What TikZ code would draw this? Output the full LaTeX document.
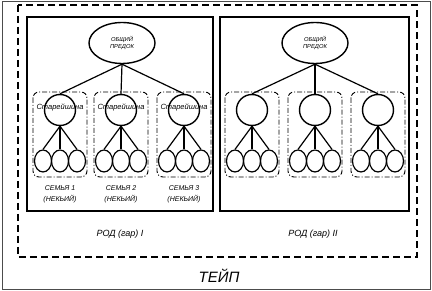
\documentclass[tikz,border=0pt]{standalone}
\usepackage{fontspec}
\setmainfont{Liberation Sans}
\usetikzlibrary{shapes.geometric}
\begin{document}
\begin{tikzpicture}[x=1pt,y=-1pt,
  line/.style={line width=1.2pt,black},
  bigell/.style={ellipse,draw,line width=1.4pt,minimum width=66pt,minimum height=41pt,inner sep=0pt,align=center,font=\fontsize{5.8}{7.8}\selectfont\itshape},
  circ/.style={circle,draw,line width=1.4pt,minimum size=31pt,inner sep=0pt},
  smell/.style={ellipse,draw,line width=1.2pt,minimum width=17pt,minimum height=22pt,inner sep=0pt},
  famgroup/.style={draw,line width=0.9pt,rounded corners=6pt,dash pattern=on 5pt off 2pt on 1pt off 2pt},
  rodbox/.style={draw,line width=1.3pt},
  tlabel/.style={font=\fontsize{7.5}{9}\selectfont\itshape,inner sep=0pt},
  famlabel/.style={font=\fontsize{7}{8}\selectfont\itshape,inner sep=0pt},
  rodlabel/.style={font=\fontsize{9}{11}\selectfont\itshape,inner sep=0pt},
]
\useasboundingbox (0,0) rectangle (432,291);
\draw[line width=0.7pt,black!70] (2,1.5) rectangle (430,289.5);
\draw[line width=1.2pt,dash pattern=on 7pt off 4pt] (18,5) rectangle (417,257);
\draw[rodbox] (27,17) rectangle (213,211);
\draw[rodbox] (220,17) rectangle (409,211);

\node[bigell] (p1) at (122,43) {ОБЩИЙ\\ПРЕДОК};
\node[bigell] (p2) at (315,43) {ОБЩИЙ\\ПРЕДОК};

\foreach \r/\xa/\xb/\xc in {1/60/121/184, 2/252/315/378} {
  \foreach \k/\cx in {1/\xa, 2/\xb, 3/\xc} {
    \draw[famgroup] (\cx-27,92) rectangle (\cx+27,177);
    \node[circ] (c\r\k) at (\cx,110) {};
    \draw[line] (p\r.south) -- (c\r\k.north);
    \foreach \m/\dx in {1/-17,2/0,3/17} {
      \node[smell] (e\r\k\m) at (\cx+\dx,161) {};
      \draw[line] (c\r\k.south) -- (e\r\k\m.north);
    }
  }
}
\foreach \k/\cx in {1/60, 2/121, 3/184} {
  \node[tlabel] (s\k) at (\cx,108) {Старейшина};
  \node[famlabel] (f\k) at (\cx,188) {СЕМЬЯ \k};
  \node[famlabel] (n\k) at (\cx,199) {(НЕКЬИЙ)};
}
\node[rodlabel] (r1) at (120,234) {РОД (гар) I};
\node[rodlabel] (r2) at (313,234) {РОД (гар) II};
\node[font=\fontsize{15}{18}\selectfont\itshape,inner sep=0pt] (t) at (219,276) {ТЕЙП};
\end{tikzpicture}
\end{document}
